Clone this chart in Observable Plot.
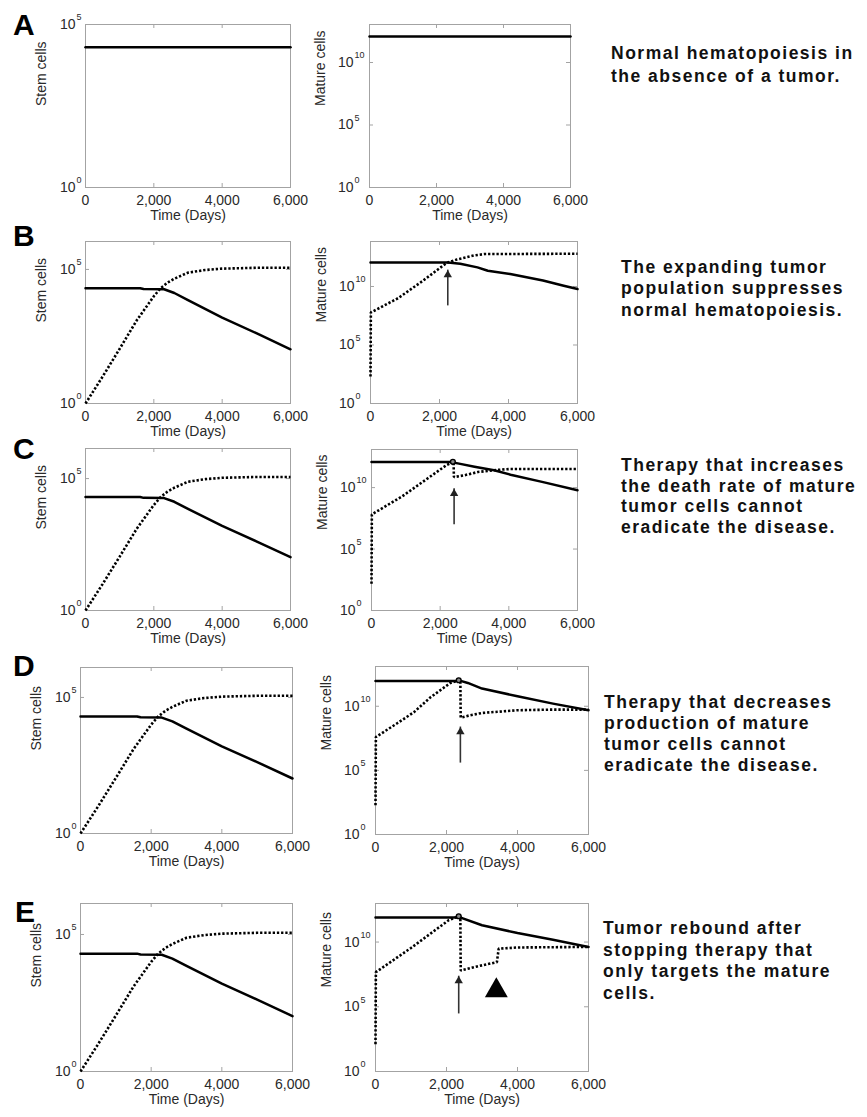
<!DOCTYPE html>
<html>
<head>
<meta charset="utf-8">
<script src="https://cdn.jsdelivr.net/npm/d3@7"></script>
<script src="https://cdn.jsdelivr.net/npm/@observablehq/plot@0.6"></script>
<style>
  html, body { margin: 0; padding: 0; background: #fff; }
  body { position: relative; width: 867px; height: 1117px; overflow: hidden;
         font-family: "Liberation Sans", Arial, Helvetica, sans-serif; }
  .letter { position: absolute; font-weight: bold; font-size: 30px; line-height: 30px; color: #000; }
  .caption { position: absolute; font-weight: bold; font-size: 17.5px; line-height: 21.5px;
             letter-spacing: 1.5px; color: #111; white-space: nowrap; }
</style>
</head>
<body>
<script>
// ---------- axis ticks ----------
const days = [0, 2000, 4000, 6000];
const dayLabels = ["0", "2,000", "4,000", "6,000"];
const innerDays = [2000, 4000];
const stemTicks = [1, 1e5];
const stemTickExp = ["0", "5"];
const matureTicks = [1, 1e5, 1e10];
const matureTickExp = ["0", "5", "10"];

// ---------- panel A: normal hematopoiesis ----------
const aTime = [0, 6000];
const aStemNormal = [2.0e4, 2.0e4];
const aMatureNormal = [1.2e12, 1.2e12];

// ---------- panels B–E: stem cells (same in all four rows) ----------
const stemNormalTime = [0, 1600, 1700, 2300, 2600, 3000, 4000, 5000, 6000];
const stemNormal = [2.0e4, 2.0e4, 1.86e4, 1.82e4, 1.32e4, 7.1e3, 1.6e3, 4.2e2, 1.05e2];
const stemTumorTime = [0, 500, 1000, 1500, 2000, 2200, 2400, 2600, 3000, 3500, 4000, 5000, 6000];
const stemTumor = [1, 10, 1.1e2, 1.26e3, 1.0e4, 2.0e4, 3.2e4, 4.5e4, 7.6e4, 9.5e4, 1.07e5, 1.15e5, 1.15e5];

// ---------- panel B: mature cells ----------
const bNormalTime = [0, 2250, 2600, 3100, 3400, 4050, 5000, 5600, 6000];
const bNormal = [1.1e12, 1.1e12, 8.9e11, 4.3e11, 2.2e11, 1.15e11, 3.2e10, 1.15e10, 6.0e9];
const bTumorTime = [0, 10, 800, 1500, 2200, 2500, 3000, 3300, 6000];
const bTumor = [2.0e2, 6.0e7, 1.0e9, 2.8e10, 1.0e12, 2.0e12, 4.5e12, 5.9e12, 6.3e12];

// ---------- panel C: mature cells ----------
const cNormalTime = [0, 2300, 2550, 3000, 3570, 4050, 5000, 6000];
const cNormal = [1.23e12, 1.23e12, 8.9e11, 5.0e11, 2.6e11, 1.12e11, 2.8e10, 6.0e9];
const cTumorTime = [0, 10, 900, 2180, 2370, 2390, 2400, 2700, 3100, 3560, 4050, 6000];
const cTumor = [1.5e2, 6.6e7, 2.0e9, 6.6e11, 1.26e12, 1.26e12, 7.2e10, 1.0e11, 1.86e11, 2.6e11, 3.3e11, 3.3e11];

// ---------- panel D: mature cells ----------
const dNormalTime = [0, 2400, 2600, 3000, 4000, 5000, 6000];
const dNormal = [9.5e11, 9.5e11, 6.6e11, 2.4e11, 6.0e10, 1.6e10, 4.9e9];
const dTumorTime = [0, 10, 600, 1080, 1550, 2110, 2344, 2390, 2400, 2670, 3000, 4000, 5000, 6000];
const dTumor = [1.9e2, 4.0e7, 4.5e8, 3.4e9, 5.0e10, 6.6e11, 1.07e12, 1.07e12, 1.3e9, 2.0e9, 3.0e9, 4.9e9, 5.5e9, 5.5e9];

// ---------- panel E: mature cells ----------
const eNormalTime = [0, 2400, 3000, 4000, 5000, 6000];
const eNormal = [7.8e11, 7.8e11, 2.0e11, 5.0e10, 1.5e10, 4.2e9];
const eTumorTime = [0, 10, 1000, 2060, 2344, 2390, 2400, 2860, 3420, 3470, 4000, 6000];
const eTumor = [1.3e2, 4.7e7, 3.5e9, 4.8e11, 9.8e11, 9.8e11, 6.3e7, 1.3e8, 2.8e8, 3.1e9, 3.8e9, 4.2e9];

// ---------- annotations ----------
const therapyDay = [2370, 2344, 2344];          // C, D, E
const therapyPeak = [1.26e12, 1.07e12, 9.8e11]; // C, D, E
const arrowDay = [2240, 2406, 2391, 2344];      // B, C, D, E
const arrowFrom = [2.2e8, 9.5e6, 3.7e5, 2.8e4];
const arrowTo = [2.5e11, 7.9e9, 2.4e8, 2.3e7];
const reboundDay = [3404];
const reboundLevel = [1.8e6];

const captions = [
  ["Normal hematopoiesis in", "the absence of a tumor."],
  ["The expanding tumor", "population suppresses", "normal hematopoiesis."],
  ["Therapy that increases", "the death rate of mature", "tumor cells cannot", "eradicate the disease."],
  ["Therapy that decreases", "production of mature", "tumor cells cannot", "eradicate the disease."],
  ["Tumor rebound after", "stopping therapy that", "only targets the mature", "cells."]
];
const letters = ["A", "B", "C", "D", "E"];

// ---------- drawing helpers ----------
const FRAME = "#a3a3a3";
const TXT = "#2a2a2a";
const FONT = "Liberation Sans, Arial, Helvetica, sans-serif";

function solid(times, values) {
  return Plot.line(values, {x: times, y: values, stroke: "#000", strokeWidth: 2.5, curve: "linear"});
}
function dotted(times, values) {
  return Plot.line(values, {x: times, y: values, stroke: "#000", strokeWidth: 2.6,
    strokeDasharray: "2.3,1.9", strokeLinecap: "butt", strokeLinejoin: "miter", curve: "linear"});
}
function arrow(i) {
  return [
    Plot.ruleX([arrowDay[i]], {x: d => d, y1: [arrowFrom[i]], y2: [arrowTo[i]], stroke: "#333", strokeWidth: 1.6}),
    Plot.dot([arrowDay[i]], {x: d => d, y: [arrowTo[i]], symbol: "triangle", r: 3.1, fill: "#222", stroke: "none", dy: 4.7})
  ];
}
function peak(i) {
  return Plot.dot([therapyDay[i]], {x: d => d, y: [therapyPeak[i]], r: 2.4, stroke: "#000", strokeWidth: 1.4, fill: "#888"});
}

function panel(cfg) {
  const mL = 62, mR = 14, mT = 16, mB = 50;
  const W = cfg.right - cfg.left, H = cfg.bottom - cfg.top;
  const mature = cfg.kind === "mature";
  const ticks = mature ? matureTicks : stemTicks;
  const exps = mature ? matureTickExp : stemTickExp;
  const baseDx = mature ? -16 : -10;
  const innerY = ticks.filter(t => t > 1 && t < cfg.yTop * 0.999);
  const svg = Plot.plot({
    width: W + mL + mR,
    height: H + mT + mB,
    marginLeft: mL, marginRight: mR, marginTop: mT, marginBottom: mB,
    style: `background: transparent; overflow: visible; font-family: ${FONT};`,
    x: {domain: [0, 6000], axis: null},
    y: {type: "log", domain: [1, cfg.yTop], axis: null},
    marks: [
      Plot.frame({stroke: FRAME, strokeWidth: 1}),
      Plot.tickX(innerDays, {x: d => d, insetTop: H - 4, stroke: FRAME}),
      Plot.tickX(innerDays, {x: d => d, insetBottom: H - 4, stroke: FRAME}),
      Plot.tickY(innerY, {y: d => d, insetRight: W - 4, stroke: FRAME}),
      Plot.tickY(innerY, {y: d => d, insetLeft: W - 4, stroke: FRAME}),
      Plot.text(ticks, {y: d => d, frameAnchor: "left", text: () => "10", textAnchor: "end",
        dx: baseDx, fontSize: 14, fill: TXT}),
      Plot.text(ticks, {y: d => d, frameAnchor: "left", text: exps, textAnchor: "start",
        dx: baseDx + 1, dy: -7, fontSize: 9, fill: TXT}),
      Plot.text(days, {x: d => d, frameAnchor: "bottom", text: dayLabels, lineAnchor: "top",
        dy: 8, fontSize: 14, fill: TXT}),
      Plot.text([0], {frameAnchor: "bottom", text: () => "Time (Days)", lineAnchor: "middle",
        dy: 28, fontSize: 14, fill: TXT}),
      Plot.text([0], {frameAnchor: "left", text: () => (mature ? "Mature cells" : "Stem cells"),
        rotate: -90, dx: mature ? -49 : -44, fontSize: 14, fill: TXT}),
      ...cfg.marks
    ]
  });
  svg.style.position = "absolute";
  svg.style.left = (cfg.left - mL) + "px";
  svg.style.top = (cfg.top - mT) + "px";
  document.body.appendChild(svg);
}

// ---------- the ten panels ----------
panel({kind: "stem", left: 85, right: 290, top: 24, bottom: 187, yTop: 1e5,
  marks: [solid(aTime, aStemNormal)]});
panel({kind: "mature", left: 369, right: 570, top: 24, bottom: 187, yTop: 1.1e13,
  marks: [solid(aTime, aMatureNormal)]});

panel({kind: "stem", left: 85, right: 290, top: 241, bottom: 403, yTop: 1.1e6,
  marks: [solid(stemNormalTime, stemNormal), dotted(stemTumorTime, stemTumor)]});
panel({kind: "mature", left: 370, right: 577, top: 241, bottom: 403, yTop: 7e13,
  marks: [solid(bNormalTime, bNormal), dotted(bTumorTime, bTumor), ...arrow(0)]});

panel({kind: "stem", left: 85, right: 290, top: 448, bottom: 610, yTop: 1.38e6,
  marks: [solid(stemNormalTime, stemNormal), dotted(stemTumorTime, stemTumor)]});
panel({kind: "mature", left: 371, right: 577, top: 449, bottom: 610, yTop: 1.26e13,
  marks: [solid(cNormalTime, cNormal), dotted(cTumorTime, cTumor), peak(0), ...arrow(1)]});

panel({kind: "stem", left: 80, right: 292, top: 667, bottom: 833, yTop: 1.26e6,
  marks: [solid(stemNormalTime, stemNormal), dotted(stemTumorTime, stemTumor)]});
panel({kind: "mature", left: 375, right: 588, top: 666, bottom: 834, yTop: 1.26e13,
  marks: [solid(dNormalTime, dNormal), dotted(dTumorTime, dTumor), peak(1), ...arrow(2)]});

panel({kind: "stem", left: 80, right: 292, top: 903, bottom: 1071, yTop: 1.35e6,
  marks: [solid(stemNormalTime, stemNormal), dotted(stemTumorTime, stemTumor)]});
panel({kind: "mature", left: 375, right: 588, top: 903, bottom: 1071, yTop: 9.5e12,
  marks: [solid(eNormalTime, eNormal), dotted(eTumorTime, eTumor), peak(2), ...arrow(3),
    Plot.dot(reboundDay, {x: d => d, y: reboundLevel, symbol: "triangle", r: 8.5, fill: "#000", stroke: "none"})]});

// ---------- panel letters and captions ----------
const letterPos = [[13, 9.6], [13, 220.6], [13, 433.6], [13, 651.3], [15, 897.3]];
letters.forEach((L, i) => {
  const d = document.createElement("div");
  d.className = "letter";
  d.textContent = L;
  d.style.left = letterPos[i][0] + "px";
  d.style.top = letterPos[i][1] + "px";
  document.body.appendChild(d);
});
const captionPos = [[611, 42.2, 22.7], [621, 256.5, 21.7], [621, 455, 20.7], [604, 691.5, 21.2], [603, 918, 21.7]];
captions.forEach((lines, i) => {
  const d = document.createElement("div");
  d.className = "caption";
  d.style.left = captionPos[i][0] + "px";
  d.style.top = captionPos[i][1] + "px";
  d.style.lineHeight = captionPos[i][2] + "px";
  lines.forEach((t, j) => {
    if (j) d.appendChild(document.createElement("br"));
    d.appendChild(document.createTextNode(t));
  });
  document.body.appendChild(d);
});
</script>
</body>
</html>
